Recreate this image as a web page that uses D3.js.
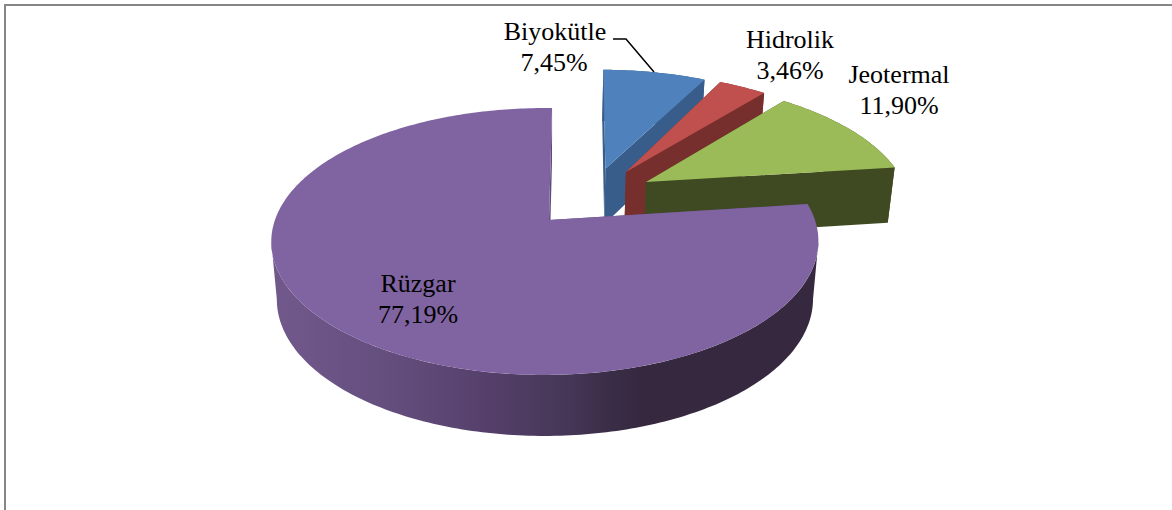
<!DOCTYPE html>
<html lang="en">
<head>
    <meta charset="UTF-8">
    <title>Pie</title>
    <script src="https://cdnjs.cloudflare.com/ajax/libs/d3/7.8.5/d3.min.js"></script>
    <style>
        body { margin: 0; background: #fff; overflow: hidden; }
        svg { display: block; }
        text { font-family: "Liberation Serif", serif; font-size: 26px; fill: #000; text-anchor: middle; }
    </style>
</head>
<body>
    <svg width="1172" height="510"></svg>
    <script>
        const categories = ["Biyokütle", "Hidrolik", "Jeotermal", "Rüzgar"];
        const shares = [7.45, 3.46, 11.90, 77.19];
        const shareLabels = ["7,45%", "3,46%", "11,90%", "77,19%"];

        const topColors = ["#4f81bd", "#c0504d", "#9bbb59", "#8064a2"];
        const wallColors = ["#385d8a", "#772f2d", "#3f4a22", "#35283f"];
        // how far each slice is pulled out, in disc units (x right, y towards viewer)
        const explode = [[0.223, -0.42], [0.303, -0.393], [0.377, -0.307], [0, 0]];
        // rims do not sit exactly around their apex in the original's perspective
        const rimShift = [0.012, 0, 0, -0.015];
        const labelPos = [[555, 40], [790, 48], [899, 83], [418, 292]];

        const cx = 549, cy = 220, rx = 270, ry = 130, persp = 0.161;

        const svg = d3.select("svg");

        const defs = svg.append("defs");
        const grad = defs.append("linearGradient")
            .attr("id", "windWall")
            .attr("gradientUnits", "userSpaceOnUse")
            .attr("x1", 271).attr("x2", 818).attr("y1", 0).attr("y2", 0);
        grad.selectAll("stop")
            .data([[0, "#72598c"], [0.2, "#654f7f"], [0.4, "#553f6a"], [0.55, "#443655"], [0.62, "#3a2d47"], [0.68, "#35283f"], [1, "#35283f"]])
            .enter().append("stop")
            .attr("offset", d => d[0])
            .attr("stop-color", d => d[1]);

        // frame
        svg.append("path")
            .attr("d", "M5,510V5H1172")
            .attr("fill", "none")
            .attr("stroke", "#868686")
            .attr("stroke-width", 2);

        const pie = d3.pie().sort(null)
            .startAngle(0.7 * Math.PI / 180)
            .endAngle(Math.PI * 2 + 0.7 * Math.PI / 180);
        const arcs = pie(shares);

        // disc coordinates to screen, h = 0 is the top face, h = 1 the bottom face
        function project(u, v, h) {
            const w = 1 - persp * v;
            const x = rx * u / w, y = ry * v / w;
            return [cx + x * (1 - 0.02 * h), cy + y + h * (57 + 4 * v)];
        }

        function arcPoints(a0, a1, off, h) {
            const n = Math.max(2, Math.ceil((a1 - a0) * 60));
            return d3.range(n + 1).map(i => {
                const a = a0 + (a1 - a0) * i / n;
                return project(off[0] + Math.sin(a), off[1] - Math.cos(a), h);
            });
        }

        const line = d3.line().curve(d3.curveLinearClosed);
        const rad = Math.PI / 180;

        const slices = svg.selectAll("g.slice")
            .data(arcs)
            .enter().append("g")
            .attr("class", "slice");

        slices.each(function (d, i) {
            const g = d3.select(this);
            const off = explode[i];
            const rim = [off[0] + rimShift[i], off[1]];
            const a1 = d.endAngle + (i === 3 ? 0.016 : 0);
            const apexTop = project(off[0], off[1], 0);
            const apexBot = project(off[0], off[1], 1);
            const topArc = arcPoints(d.startAngle, a1, rim, 0);
            const botArc = arcPoints(d.startAngle, a1, rim, 1);

            // radial walls
            [[topArc[0], botArc[0]], [topArc[topArc.length - 1], botArc[botArc.length - 1]]].forEach(p => {
                g.append("path")
                    .attr("d", line([apexTop, p[0], p[1], apexBot]))
                    .attr("fill", i === 3 ? "#5f4a7c" : wallColors[i]);
            });

            // outer wall, big slice only between its left and right tangent points
            const w0 = i === 3 ? 99.3 * rad : d.startAngle;
            const w1 = i === 3 ? 260.7 * rad : a1;
            const wallTop = arcPoints(w0, w1, rim, 0);
            const wallBot = arcPoints(w0, w1, rim, 1);
            g.append("path")
                .attr("d", line(wallTop.concat(wallBot.reverse())))
                .attr("fill", i === 3 ? "url(#windWall)" : wallColors[i]);

            // top face
            g.append("path")
                .attr("d", line([apexTop].concat(topArc)))
                .attr("fill", topColors[i]);
        });

        // leader line for the first label
        svg.append("path")
            .attr("d", "M613,39H626L654,72")
            .attr("fill", "none")
            .attr("stroke", "#000")
            .attr("stroke-width", 1.5);

        svg.selectAll("text.name")
            .data(categories)
            .enter().append("text")
            .attr("class", "name")
            .attr("x", (d, i) => labelPos[i][0])
            .attr("y", (d, i) => labelPos[i][1])
            .text(d => d);

        svg.selectAll("text.share")
            .data(shareLabels)
            .enter().append("text")
            .attr("class", "share")
            .attr("x", (d, i) => labelPos[i][0] - (i === 0 ? 1 : 0))
            .attr("y", (d, i) => labelPos[i][1] + 31)
            .text(d => d);
    </script>
</body>
</html>
